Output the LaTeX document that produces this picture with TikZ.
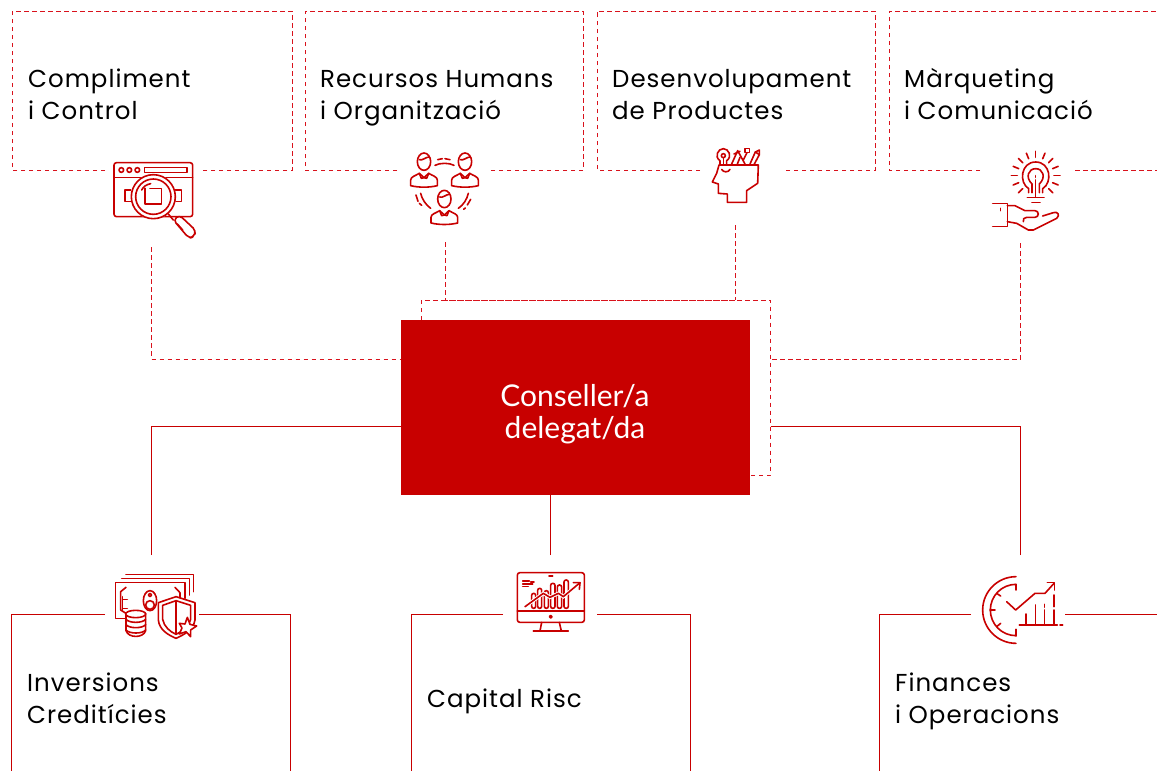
\documentclass[tikz,border=0pt]{standalone}
\usepackage{fontspec}
\usetikzlibrary{calc}
\newfontfamily\labfont{Poppins}[LetterSpace=4]
\newfontfamily\ceofont{Lato}
\definecolor{rd}{HTML}{C80000}
\definecolor{rdd}{HTML}{D9121C}
\tikzset{
 dashline/.style={draw=rdd,line width=1pt,dash pattern=on 4.5pt off 3.5pt},
 solidline/.style={draw=rd,line width=1pt},
 lab/.style={anchor=base west,inner sep=0pt,font=\labfont\fontsize{24.5}{24.5}\selectfont,text=black},
 ceobox/.style={fill=rd,draw=none,minimum width=349pt,minimum height=175pt,inner sep=0pt,outer sep=0pt},
 ceotext/.style={text=white,align=center,font=\ceofont\fontsize{30}{32}\selectfont},
 ic/.style={draw=rd,line width=1.6pt,line cap=round,line join=round},
 iconframe/.style={scale=1/3}
}
\begin{document}
\begin{tikzpicture}[x=1pt,y=-1pt]
\useasboundingbox (0,0) rectangle (1157,771);
\node[ceobox] (ceo) at (575.5,407.5) {};
\node[ceotext] (ceolabel) at (575,414.5) {Conseller/a\\delegat/da};

% top boxes
\draw[dashline] (105,170) -- (12,170) -- (12,11) -- (292,11) -- (292,170) -- (199,170);
\draw[dashline] (397,170) -- (305,170) -- (305,11) -- (583,11) -- (583,170) -- (491,170);
\draw[dashline] (700,170) -- (597,170) -- (597,11) -- (875,11) -- (875,170) -- (783,170);
\draw[dashline] (980,170) -- (889,170) -- (889,11) -- (1157,11);
\draw[dashline] (1075,170) -- (1157,170);
% bottom boxes
\draw[solidline] (105,614) -- (11.5,614) -- (11.5,771);
\draw[solidline] (199,614) -- (290.5,614) -- (290.5,771);
\draw[solidline] (503,614) -- (411.5,614) -- (411.5,771);
\draw[solidline] (597,614) -- (690.5,614) -- (690.5,771);
\draw[solidline] (971,614) -- (879.5,614) -- (879.5,771);
\draw[solidline] (1065,614) -- (1157,614);

% labels
\node[lab] (t1a) at (28,87) {Compliment};
\node[lab] (t1b) at (28,119) {i Control};
\node[lab] (t2a) at (320,87) {Recursos Humans};
\node[lab] (t2b) at (320,119) {i Organització};
\node[lab] (t3a) at (612,87) {Desenvolupament};
\node[lab] (t3b) at (612,119) {de Productes};
\node[lab] (t4a) at (904,87) {Màrqueting};
\node[lab] (t4b) at (904,119) {i Comunicació};
\node[lab] (b1a) at (27,691) {Inversions};
\node[lab] (b1b) at (27,723) {Creditícies};
\node[lab] (b2a) at (427,707) {Capital Risc};
\node[lab] (b3a) at (895,691) {Finances};
\node[lab] (b3b) at (895,723) {i Operacions};

% connector ends
\coordinate (ic1) at (151.5,247);
\coordinate (ic2) at (445,242);
\coordinate (ic3) at (735,225);
\coordinate (ic4) at (1020.5,243);
\coordinate (ib1) at (151.5,555);
\coordinate (ib2) at (550.5,555);
\coordinate (ib3) at (1020.5,555);
\coordinate (bus) at (735,300);
\coordinate (ring) at (770.5,300);
\coordinate (ringl) at (421,300);
\coordinate (cdl) at (ceo.west |- 0,359);
\coordinate (cdr) at (770.5,359);
\coordinate (csl) at (ceo.west |- 0,426);
\coordinate (csr) at (770.5,426);
\coordinate (ct) at (421,320);
\coordinate (cr) at (ceo.east |- 0,475);
\coordinate (cb) at (550.5,495);

\draw[dashline] (ic1) |- (cdl);
\draw[dashline] (ic4) |- (cdr);
\draw[dashline] (ic2) |- (bus);
\draw[dashline] (ic3) -- (bus);
\draw[dashline] (ct) -- (ringl) -- (ring) |- (cr);
\draw[solidline] (ib1) |- (csl);
\draw[solidline] (ib3) |- (csr);
\draw[solidline] (ib2) -- (cb);

% ---- icon 1
\begin{scope}[shift={(90,140)},iconframe]
\draw[ic,rounded corners=2.5pt] (72,68) rectangle (308,230);
\draw[ic] (72,112) -- (308,112);
\foreach \x in {94,118,142} \draw[ic] (\x,90) circle[radius=7];
\draw[ic] (163,83) rectangle (291,97);
\draw[ic] (122,150) -- (105,150) -- (105,185) -- (122,185);
\draw[ic] (255,150) -- (275,150) -- (275,185) -- (255,185);
\fill[white] (190,170) circle[radius=68];
\draw[ic] (190,170) circle[radius=66];
\draw[ic] (190,170) circle[radius=53];
\draw[ic] (165,145) -- (165,192) -- (215,192) -- (215,145) -- (180,145);
\draw[ic] (155,150) .. controls (160,140) and (170,133) .. (182,131);
\draw[ic] (235,222) -- (250,240);
\draw[ic,rounded corners=4pt,fill=white] (250,240) -- (268,225) -- (318,272) -- (312,290) -- (297,295) -- cycle;
\draw[ic] (262,252) -- (278,270);
\end{scope}

% ---- icon 2
\begin{scope}[shift={(390,140)},iconframe]
\foreach \px/\py in {102/65,225/65,163/177}{
 \begin{scope}[shift={(\px,\py)}]
 \draw[ic] (0,0) ellipse[x radius=20,y radius=26];
 \draw[ic] (-14,-6) .. controls (-5,-2) and (5,-14) .. (15,-14);
 \draw[ic] (-40,72) -- (-40,55) .. controls (-40,45) and (-25,42) .. (-14,35) -- (0,48) -- (14,35) .. controls (25,42) and (40,45) .. (40,55) -- (40,72) .. controls (15,78) and (-15,78) .. (-40,72) -- cycle;
 \draw[ic] (-14,35) -- (-8,50) -- (0,48) -- (8,50) -- (14,35);
 \end{scope}
}
\draw[ic] (135,76) .. controls (150,68) and (178,68) .. (192,76);
\draw[ic] (143,59) -- (157,56);
\draw[ic] (165,56) -- (180,59);
\draw[ic] (92,160) .. controls (96,178) and (108,195) .. (122,205);
\draw[ic] (78,165) -- (84,184);
\draw[ic] (88,190) -- (95,196);
\draw[ic] (235,160) .. controls (231,178) and (220,195) .. (205,205);
\draw[ic] (242,178) -- (232,195);
\draw[ic] (226,204) -- (221,208);
\end{scope}

% ---- icon 3
\begin{scope}[shift={(690,140)},iconframe]
\draw[ic] (205,75) -- (87,75) -- (80,100) -- (67,126) -- (85,132) -- (85,160) -- (112,162) -- (112,187) -- (170,187) -- (170,152) -- (203,130) -- cycle;
\draw[ic] (95,88) .. controls (100,98) and (115,98) .. (120,88);
\draw[ic] (90,72) -- (90,62) .. controls (72,50) and (84,26) .. (100,26) .. controls (116,26) and (128,50) .. (110,62) -- (110,72);
\draw[ic] (100,47) circle[radius=6];
\draw[ic] (100,53) -- (100,72);
\draw[ic] (125,72) -- (143,32) -- (165,72);
\draw[ic] (132,42) -- (150,34);
\draw[ic] (142,72) -- (150,52);
\draw[ic] (165,25) rectangle (178,38);
\draw[ic] (171,38) -- (160,60);
\draw[ic] (180,72) -- (196,36) -- (208,30) -- (208,44) -- (192,74);
\draw[ic] (196,36) -- (208,44);
\end{scope}

% ---- icon 4
\begin{scope}[shift={(970,140)},iconframe]
\foreach \a in {0,22.5,45,135,157.5,180,202.5,225,247.5,270,292.5,315,337.5}
  \draw[ic] ($(197,107)+(\a:55)$) -- ($(197,107)+(\a:73)$);
\draw[ic] (176,158) -- (176,146) .. controls (146,128) and (152,66) .. (197,66) .. controls (242,66) and (248,128) .. (218,146) -- (218,158);
\draw[ic] (186,132) .. controls (165,112) and (175,86) .. (197,86) .. controls (219,86) and (229,112) .. (208,132) -- (208,158);
\draw[ic] (186,132) -- (186,158);
\draw[ic] (197,107) -- (197,112);
\draw[ic] (197,120) -- (197,170);
\draw[ic] (172,172) -- (222,172);
\draw[ic] (186,188) -- (210,188);
\draw[ic] (68,190) -- (112,190) -- (112,260) -- (68,260);
\draw[ic] (92,205) -- (92,212);
\draw[ic] (112,197) -- (135,197) -- (165,212) -- (195,212) .. controls (208,212) and (208,232) .. (195,232) -- (170,232) .. controls (162,232) and (158,238) .. (160,245);
\draw[ic] (112,245) -- (140,250) -- (175,270) -- (190,270) -- (260,235) .. controls (272,225) and (262,213) .. (250,218) -- (218,228);
\end{scope}

% ---- icon 5
\begin{scope}[shift={(100,560)},iconframe]
\draw[ic] (78,44) -- (280,44) -- (280,95);
\draw[ic] (65,55) -- (268,55) -- (268,105);
\draw[ic] (78,175) -- (47,175) -- (47,67) -- (255,67) -- (255,115);
\draw[ic] (78,82) -- (62,95) -- (62,150) -- (78,160);
\draw[ic] (225,82) -- (240,98) -- (240,115);
\draw[ic] (68,110) -- (68,150);
\draw[ic] (68,118) -- (82,118);
\draw[ic] (68,145) -- (82,145);
\draw[ic] (150,122) ellipse[x radius=20,y radius=30];
\draw[ic] (150,105) circle[radius=5];
\draw[ic] (150,135) circle[radius=13];
\draw[ic,fill=white] (78,160) -- (78,212) .. controls (85,235) and (130,235) .. (137,212) -- (137,160) -- cycle;
\draw[ic,fill=white] (107,162) ellipse[x radius=30,y radius=11];
\foreach \y in {178,194,210}
  \draw[ic] (78,\y) .. controls (88,\y+12) and (127,\y+12) .. (137,\y);
\draw[ic,fill=white] (175,128) -- (228,110) -- (285,128) -- (285,180) .. controls (280,210) and (250,225) .. (228,235) .. controls (205,225) and (178,210) .. (175,180) -- cycle;
\draw[ic] (188,136) -- (228,122) -- (272,136) -- (272,178) .. controls (268,200) and (245,215) .. (228,223) .. controls (210,215) and (192,200) .. (188,178) -- cycle;
\draw[ic] (228,122) -- (228,223);
\draw[ic,fill=white] (262,172) -- (270,193) -- (290,198) -- (272,210) -- (272,230) -- (258,215) -- (238,222) -- (246,204) -- (238,190) -- (255,192) -- cycle;
\end{scope}

% ---- icon 6
\begin{scope}[shift={(500,560)},iconframe]
\draw[ic,rounded corners=2.5pt] (52,38) rectangle (253,187);
\draw[ic] (52,153) -- (253,153);
\draw[ic] (152,170) circle[radius=4];
\draw[ic] (147,48) -- (158,48);
\draw[ic] (125,187) -- (120,213);
\draw[ic] (178,187) -- (184,213);
\draw[ic] (100,213) -- (205,213);
\draw[ic] (68,63) -- (88,63);
\draw[ic] (92,66) -- (102,66);
\draw[ic] (68,72) -- (98,72);
\draw[ic] (68,80) -- (85,80);
\foreach \xa/\xb/\yt in {95/107/100,113/125/85,133/145/92,152/165/70,172/185/75,192/205/60}
  \draw[ic,rounded corners=2pt] (\xa,\yt) rectangle (\xb,145);
\draw[white,line width=3.5pt] (75,140) -- (130,100) -- (150,112) -- (175,100) -- (190,110) -- (240,68);
\draw[ic] (75,140) -- (130,100) -- (150,112) -- (175,100) -- (190,110) -- (240,68);
\draw[ic] (220,68) -- (240,68) -- (238,88);
\end{scope}

% ---- icon 7
\begin{scope}[shift={(970,560)},iconframe]
\draw[ic] (138,50) arc[start angle=270,end angle=90,radius=100];
\draw[ic] (138,73) arc[start angle=270,end angle=90,radius=77];
\draw[ic] (138,73) -- (138,90);
\draw[ic] (138,228) -- (138,208);
\draw[ic] (60,150) -- (75,150);
\draw[ic] (80,100) -- (92,108);
\draw[ic] (80,200) -- (92,190);
\draw[ic] (110,125) -- (137,150) -- (195,100) -- (225,100) -- (252,70);
\draw[ic] (232,68) -- (253,68) -- (253,90);
\draw[ic] (148,195) -- (262,195);
\draw[ic] (270,195) -- (278,195);
\draw[ic] (168,162) -- (168,195);
\draw[ic] (196,135) -- (196,195);
\draw[ic] (224,150) -- (224,195);
\draw[ic] (224,133) -- (224,142);
\draw[ic] (252,105) -- (252,140);
\draw[ic] (252,150) -- (252,195);
\end{scope}
\end{tikzpicture}
\end{document}
